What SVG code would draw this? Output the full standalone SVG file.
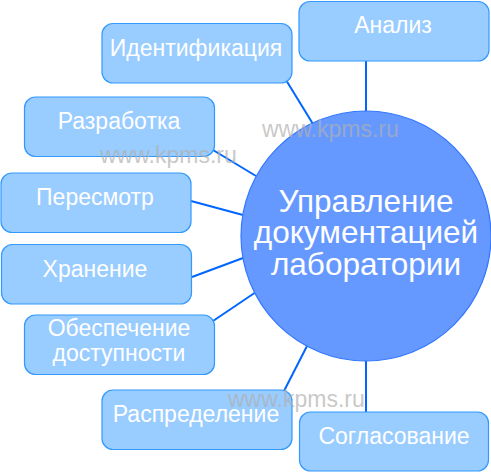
<svg xmlns="http://www.w3.org/2000/svg" width="491" height="472" viewBox="0 0 491 472">
<style>
.box{fill:#99CCFF;stroke:#3399FF;stroke-width:1.2}
.lbl{font-family:"Liberation Sans",Arial,sans-serif;font-size:23px;fill:#FFFFFF;text-anchor:middle}
.big{font-family:"Liberation Sans",Arial,sans-serif;font-size:31.5px;fill:#FFFFFF;text-anchor:middle}
.wm{font-family:"Liberation Sans",Arial,sans-serif;font-size:23px;fill:#B0B0B0;fill-opacity:0.7}
.con line{stroke:#0066FF;stroke-width:2}
</style>
<rect width="491" height="472" fill="#FFFFFF"/>
<g id="connectors" class="con">
<line x1="366" y1="61" x2="366" y2="112"/>
<line x1="286" y1="80" x2="313" y2="124"/>
<line x1="213" y1="150" x2="256" y2="176"/>
<line x1="191" y1="201" x2="243" y2="215"/>
<line x1="192" y1="277" x2="243" y2="258"/>
<line x1="213" y1="321" x2="256" y2="292"/>
<line x1="284" y1="391" x2="307" y2="346"/>
<line x1="366" y1="360" x2="366" y2="413"/>
</g>
<g id="center">
<circle cx="366" cy="236" r="125" fill="#6699FF" stroke="#3377FF" stroke-width="1.2"/>
<text class="big" x="366" y="212">Управление</text>
<text class="big" x="366" y="243">документацией</text>
<text class="big" x="366" y="275">лаборатории</text>
</g>
<g id="n-analiz"><rect class="box" x="299" y="1.5" width="190" height="59.5" rx="11"/><text class="lbl" x="393" y="33">Анализ</text></g>
<g id="n-ident"><rect class="box" x="102" y="23.5" width="190" height="59.5" rx="11"/><text class="lbl" x="196" y="56">Идентификация</text></g>
<g id="n-razr"><rect class="box" x="24.5" y="97" width="190" height="59.5" rx="11"/><text class="lbl" x="119" y="129">Разработка</text></g>
<g id="n-peres"><rect class="box" x="1" y="173" width="190" height="59.5" rx="11"/><text class="lbl" x="95" y="205">Пересмотр</text></g>
<g id="n-hran"><rect class="box" x="1.5" y="244.5" width="190" height="59.5" rx="11"/><text class="lbl" x="95" y="277">Хранение</text></g>
<g id="n-obesp"><rect class="box" x="24.5" y="315" width="190" height="59.5" rx="11"/><text class="lbl" x="119" y="336">Обеспечение</text><text class="lbl" x="119" y="361">доступности</text></g>
<g id="n-raspr"><rect class="box" x="102" y="390" width="190" height="59.5" rx="11"/><text class="lbl" x="196" y="422">Распределение</text></g>
<g id="n-sogl"><rect class="box" x="299.5" y="412" width="189" height="59" rx="11"/><text class="lbl" x="394" y="444">Согласование</text></g>
<g id="watermarks">
<text class="wm" x="262" y="137">www.kpms.ru</text>
<text class="wm" x="100" y="163">www.kpms.ru</text>
<text class="wm" x="228" y="407">www.kpms.ru</text>
</g>
</svg>
